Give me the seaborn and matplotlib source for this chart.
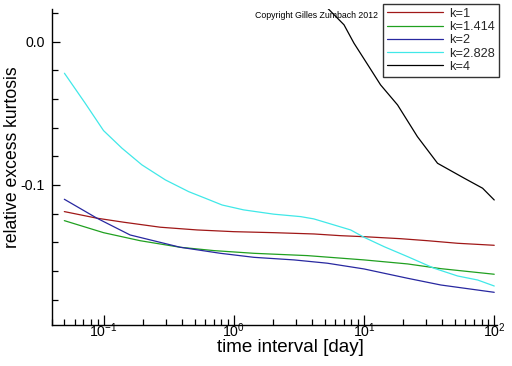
import numpy as np
import pandas as pd
import matplotlib
matplotlib.use("Agg")
import matplotlib.pyplot as plt
import seaborn as sns
from matplotlib.ticker import LogLocator, MultipleLocator, FixedLocator, NullFormatter

# --- data ---
x_k1 = [0.05, 0.089, 0.1426, 0.273, 0.523, 1.0, 2.03, 4.12, 6.62, 10, 19.1, 30.7, 52.3, 100]
y_k1 = [-0.1186, -0.1232, -0.126, -0.1295, -0.1314, -0.1326, -0.1333, -0.1342, -0.1354, -0.1361,
        -0.1375, -0.1389, -0.1407, -0.1421]

x_k1414 = [0.05, 0.1, 0.191, 0.389, 0.702, 1.43, 3.67, 10, 21.6, 38.9, 100]
y_k1414 = [-0.1249, -0.1333, -0.1389, -0.1435, -0.1458, -0.1477, -0.1493, -0.1523, -0.1551,
           -0.1584, -0.1623]

x_k2 = [0.05, 0.089, 0.160, 0.389, 0.791, 1.43, 2.90, 5.23, 10, 21.6, 38.9, 100]
y_k2 = [-0.110, -0.1232, -0.1349, -0.1435, -0.1477, -0.1505, -0.1523, -0.1546, -0.1586,
        -0.1651, -0.1698, -0.1749]

x_k2828 = [0.0501, 0.0723, 0.1, 0.1386, 0.197, 0.2985, 0.451, 0.605, 0.814, 1.19, 2.03, 3.26,
           4.12, 5.54, 7.9, 10, 14.3, 21.6, 34.5, 52.3, 74.5, 100]
y_k2828 = [-0.0221, -0.043, -0.0621, -0.0744, -0.086, -0.0965, -0.1047, -0.1093, -0.114,
           -0.1174, -0.1204, -0.1221, -0.1237, -0.1272, -0.1314, -0.1365, -0.1431, -0.150,
           -0.1581, -0.1635, -0.1663, -0.1705]

x_k4 = [4.6, 5.16, 7.02, 8.37, 10.9, 13.4, 18.1, 25.7, 36.7, 58.8, 81.4, 100]
y_k4 = [0.032, 0.024, 0.0117, -0.0011, -0.0174, -0.0302, -0.0442, -0.0663, -0.0849, -0.0953,
        -0.1023, -0.1105]

labels = ["k=1", "k=1.414", "k=2", "k=2.828", "k=4"]
colors = ["#a01818", "#20a020", "#2828a0", "#40e8e8", "#000000"]

xs = [x_k1, x_k1414, x_k2, x_k2828, x_k4]
ys = [y_k1, y_k1414, y_k2, y_k2828, y_k4]
df = pd.concat([pd.DataFrame({"x": x, "y": y, "k": lab}) for x, y, lab in zip(xs, ys, labels)],
               ignore_index=True)

sns.set_style("white")
plt.rcParams['font.family'] = ['Liberation Sans', 'DejaVu Sans']
plt.rcParams['mathtext.fontset'] = 'custom'
plt.rcParams['mathtext.rm'] = 'Liberation Sans'
plt.rcParams['mathtext.it'] = 'Liberation Sans'
plt.rcParams['mathtext.sf'] = 'Liberation Sans'

fig = plt.figure(figsize=(5.12, 3.66), dpi=100)
ax = fig.add_axes([51.7 / 512, 1 - 325 / 366, (497 - 51.7) / 512, (325 - 9.3) / 366])

sns.lineplot(data=df, x="x", y="y", hue="k", hue_order=labels, palette=colors,
             linewidth=0.9, ax=ax, sort=False, estimator=None, legend=False)

ax.set_xscale("log")
ax.set_xlim(0.04, 105)
ax.set_ylim(-0.1977, 0.0225)

ax.spines["top"].set_visible(False)
ax.spines["right"].set_visible(False)
for s in ("left", "bottom"):
    ax.spines[s].set_color("black")
    ax.spines[s].set_linewidth(1.0)

ax.yaxis.set_major_locator(FixedLocator([-0.1, 0.0]))
ax.yaxis.set_minor_locator(MultipleLocator(0.02))
ax.set_yticks([-0.1, 0.0])
ax.set_yticklabels(["-0.1", "0.0"])
ax.xaxis.set_major_locator(LogLocator(base=10, numticks=10))
ax.xaxis.set_minor_locator(LogLocator(base=10, subs=np.arange(2, 10), numticks=20))
ax.xaxis.set_minor_formatter(NullFormatter())

ax.tick_params(which="both", direction="in", color="black", labelsize=10.2, labelcolor="black",
               bottom=True, left=True, top=False, right=False)
ax.tick_params(axis="x", which="major", length=7, width=0.9, pad=-2.5)
ax.tick_params(axis="x", which="minor", length=4, width=0.9)
ax.tick_params(axis="y", which="major", length=6, width=0.9, pad=5)
ax.tick_params(axis="y", which="minor", length=4, width=0.9)

ax.set_xlabel("time interval [day]", fontsize=13.5, color="black")
ax.set_ylabel("relative excess kurtosis", fontsize=12.7, color="black")
ax.xaxis.set_label_coords((290 - 51.7) / (497 - 51.7), -(348 - 325) / (325 - 9.3), transform=ax.transAxes)
ax.xaxis.label.set_va("center")
ax.yaxis.set_label_coords(-(51.7 - 12.5) / (497 - 51.7), (325 - 157) / (325 - 9.3), transform=ax.transAxes)
ax.yaxis.label.set_va("center")

handles = [plt.Line2D([0], [0], color=c, lw=0.9) for c in colors]
leg = fig.legend(handles, labels, loc="upper left",
                 bbox_to_anchor=(383 / 512, 1 - 4 / 366), frameon=True, fancybox=False,
                 fontsize=9.2, handlelength=4.4, handletextpad=0.5, labelspacing=0.1,
                 borderpad=0.3, borderaxespad=0)
leg.get_frame().set_edgecolor("black")
leg.get_frame().set_linewidth(1.0)

fig.text(255 / 512, 1 - 16 / 366, "Copyright Gilles Zumbach 2012", fontsize=6.3,
         color="black", va="center", ha="left")

fig.savefig("out.png", dpi=100)
